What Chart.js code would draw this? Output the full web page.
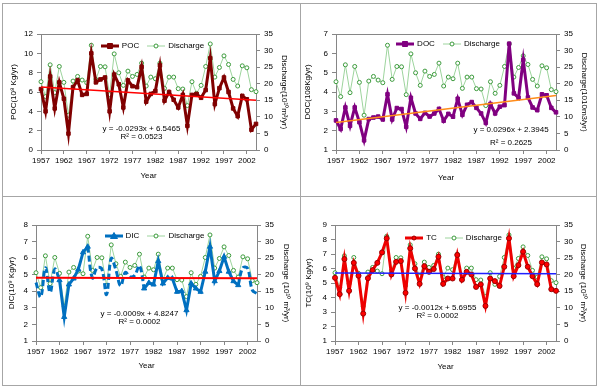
<!DOCTYPE html>
<html>
<head>
<meta charset="utf-8">
<title>Carbon flux and discharge, 1957-2004</title>
<script src="https://cdn.jsdelivr.net/npm/chart.js@4.4.1/dist/chart.umd.min.js"></script>
<style>
  body { margin: 0; background: #fff; }
  .cell { position: absolute; border: 1px solid #a6a6a6; box-sizing: border-box; }
  .cell canvas { position: absolute; left: 0; top: 0; }
</style>
</head>
<body>
<div class="cell" style="left:2px;top:3px;width:299px;height:194px"><canvas id="pocChart" width="297" height="192"></canvas></div>
<div class="cell" style="left:300px;top:3px;width:297px;height:194px"><canvas id="docChart" width="295" height="192"></canvas></div>
<div class="cell" style="left:2px;top:196px;width:299px;height:190px"><canvas id="dicChart" width="297" height="188"></canvas></div>
<div class="cell" style="left:300px;top:196px;width:297px;height:190px"><canvas id="tcChart" width="295" height="188"></canvas></div>
<script>
const years = [1957, 1958, 1959, 1960, 1961, 1962, 1963, 1964, 1965, 1966,
    1967, 1968, 1969, 1970, 1971, 1972, 1973, 1974, 1975, 1976,
    1977, 1978, 1979, 1980, 1981, 1982, 1983, 1984, 1985, 1986,
    1987, 1988, 1989, 1990, 1991, 1992, 1993, 1994, 1995, 1996,
    1997, 1998, 1999, 2000, 2001, 2002, 2003, 2004];

// discharge, 10^10 m3/yr (same series in every panel)
const discharge = [20.6, 16.1, 25.7, 17.3, 25.2, 20.4, 10.5, 20.8, 22.2, 21.1,
    20.3, 31.6, 21.3, 25.2, 25.1, 16.7, 29.0, 23.3, 19.5, 23.8,
    22.2, 22.8, 26.2, 19.3, 22.0, 21.5, 26.2, 18.6, 22.0, 22.0,
    18.5, 18.4, 13.4, 20.6, 17.1, 19.5, 25.2, 32.0, 22.0, 24.9,
    28.4, 25.8, 21.3, 19.3, 25.4, 24.8, 18.2, 17.6];

const poc = [6.3, 4.0, 7.6, 4.3, 7.0, 5.3, 1.7, 6.5, 7.2, 5.7,
    5.8, 10.0, 7.0, 7.3, 7.5, 4.0, 7.8, 6.8, 4.4, 7.2,
    6.6, 6.5, 8.6, 5.0, 5.8, 6.1, 8.75, 5.1, 6.0, 5.2,
    4.4, 5.7, 2.5, 5.7, 5.8, 5.4, 6.2, 9.5, 4.75, 6.4,
    7.5, 6.0, 4.3, 3.5, 5.6, 5.25, 2.1, 2.7];

const doc = [2.53, 2.09, 3.2, 2.25, 3.2, 2.44, 1.5, 2.6, 2.68, 2.73,
    2.58, 3.88, 2.58, 3.17, 3.12, 2.2, 3.7, 2.89, 2.61, 2.92,
    2.73, 2.89, 3.13, 2.51, 2.87, 2.72, 3.65, 2.82, 3.34, 3.48,
    3.18, 2.89, 2.4, 3.38, 2.89, 3.24, 3.32, 6.5, 3.93, 3.7,
    5.66, 3.72, 3.2, 3.06, 3.88, 3.83, 3.18, 2.95];

const dic = [4.53, 3.66, 5.42, 3.93, 5.34, 4.67, 2.45, 4.41, 4.77, 5.32,
    6.35, 6.69, 4.81, 5.42, 5.34, 3.80, 5.98, 5.28, 4.33, 5.14,
    4.87, 4.97, 5.54, 4.17, 4.51, 4.41, 5.82, 4.47, 4.81, 4.77,
    3.97, 4.01, 2.86, 4.47, 4.17, 3.97, 5.18, 6.69, 4.61, 5.22,
    6.08, 5.18, 4.61, 4.37, 5.42, 5.38, 4.07, 3.86];

// years drawn solid with markers; the rest of the DIC line is dashed
const dicMeasuredYears = [1962, 1963, 1964, 1965, 1966, 1967, 1968,
    1980, 1981, 1982, 1983, 1984, 1985, 1986, 1987, 1988, 1989, 1990,
    1991, 1992, 1993, 1994, 1995, 1996, 1997, 1998, 1999, 2000];

const tc = [5.36, 4.23, 6.65, 4.46, 6.39, 5.50, 2.89, 5.33, 5.89, 6.39,
    7.11, 8.08, 5.59, 6.46, 6.51, 4.32, 7.39, 6.0, 4.94, 6.16,
    5.77, 5.96, 6.81, 4.94, 5.31, 5.31, 6.93, 5.22, 5.77, 5.59,
    4.73, 4.90, 3.42, 5.31, 5.13, 4.80, 6.12, 8.08, 5.47, 6.23,
    7.16, 6.12, 5.47, 4.92, 6.42, 6.28, 4.57, 4.46];

// linear trend lines: value at 1957 and at 2004
const pocTrend = [6.52, 5.14];
const docTrend = [2.42, 3.82];
const dicTrend = [4.82, 4.78];
const tcTrend = [5.69, 5.64];

Chart.defaults.font.family = '"Liberation Sans", Arial, sans-serif';
Chart.defaults.font.size = 8;
Chart.defaults.color = '#000';

function makeIcon(lineColor, lineWidth, style, fill, border) {
    const c = document.createElement('canvas');
    c.width = 18;
    c.height = 8;
    const g = c.getContext('2d');
    g.strokeStyle = lineColor;
    g.lineWidth = lineWidth;
    g.beginPath();
    g.moveTo(0, 4);
    g.lineTo(18, 4);
    g.stroke();
    g.fillStyle = fill;
    g.strokeStyle = border;
    g.lineWidth = 1;
    g.beginPath();
    if (style === 'rect') {
        g.rect(6.5, 1.5, 5, 5);
    } else if (style === 'triangle') {
        g.moveTo(9, 0.5);
        g.lineTo(12.5, 6.5);
        g.lineTo(5.5, 6.5);
        g.closePath();
    } else {
        g.arc(9, 4, 2, 0, Math.PI * 2);
    }
    g.fill();
    g.stroke();
    return c;
}

function trendLine(ends) {
    return years.map(function (y, i) {
        if (i === 0) return ends[0];
        if (i === years.length - 1) return ends[1];
        return null;
    });
}

const panelDecor = {
    id: 'panelDecor',
    beforeDatasetsDraw(chart) {
        const a = chart.chartArea;
        const ctx = chart.ctx;
        ctx.save();
        ctx.strokeStyle = '#868686';
        ctx.lineWidth = 1;
        ctx.strokeRect(Math.round(a.left) + 0.5, Math.round(a.top) + 0.5,
            Math.round(a.right) - Math.round(a.left), Math.round(a.bottom) - Math.round(a.top));
        ctx.restore();
    },
    afterDatasetsDraw(chart, args, opts) {
        const a = chart.chartArea;
        const ctx = chart.ctx;
        const cx = (a.left + a.right) / 2;
        ctx.save();
        ctx.font = '8px "Liberation Sans", Arial, sans-serif';
        ctx.fillStyle = '#000';
        ctx.textBaseline = 'middle';
        ctx.textAlign = 'left';
        const items = chart.data.datasets.filter(function (d) { return d.legendIcon; });
        const widths = items.map(function (d) { return 21 + ctx.measureText(d.label).width; });
        const total = widths.reduce(function (s, w) { return s + w; }, 0) + 8 * (items.length - 1);
        let x = cx + opts.legendDx - total / 2;
        const y = a.top + opts.legendDy;
        items.forEach(function (d, i) {
            ctx.drawImage(d.legendIcon, Math.round(x), Math.round(y - 4));
            ctx.fillText(d.label, x + 21, y);
            x += widths[i] + 8;
        });
        ctx.textAlign = 'center';
        ctx.fillText(opts.equation, cx + opts.eqDx, a.top + opts.eqDy);
        ctx.fillText(opts.rSquared, cx + opts.r2Dx, a.top + opts.r2Dy);
        ctx.restore();
    }
};

function buildChart(id, p) {
    const ctx = document.getElementById(id).getContext('2d');
    const main = {
        label: p.label,
        data: p.data,
        borderColor: p.color,
        borderWidth: 3,
        pointStyle: p.pointStyle,
        pointRadius: p.pointRadius,
        pointBackgroundColor: p.pointFill,
        pointBorderColor: p.pointBorder,
        pointBorderWidth: 1,
        fill: false,
        clip: false,
        order: 1,
        legendIcon: makeIcon(p.color, 3, p.pointStyle, p.pointFill, p.pointBorder)
    };
    const flow = {
        label: 'Discharge',
        data: discharge,
        yAxisID: 'y2',
        borderColor: '#9dd49d',
        borderWidth: 1,
        pointStyle: 'circle',
        pointRadius: 2,
        pointBackgroundColor: '#ffffff',
        pointBorderColor: '#3c9a3c',
        pointBorderWidth: 1,
        fill: false,
        clip: false,
        order: 2,
        legendIcon: makeIcon('#9dd49d', 1, 'circle', '#ffffff', '#3c9a3c')
    };
    const trend = {
        label: '',
        data: trendLine(p.trend),
        borderColor: p.trendColor,
        borderWidth: p.trendWidth,
        pointRadius: 0,
        spanGaps: true,
        fill: false,
        order: 0
    };
    const datasets = [main, flow, trend].concat(p.extra || []);

    return new Chart(ctx, {
        type: 'line',
        data: {
            labels: years,
            datasets: datasets
        },
        options: {
            responsive: false,
            animation: false,
            layout: { padding: { top: p.top, left: 0, right: 0, bottom: 0 } },
            plugins: {
                legend: { display: false },
                tooltip: { enabled: false },
                panelDecor: p.decor
            },
            scales: {
                x: {
                    offset: false,
                    border: { display: false },
                    grid: { drawOnChartArea: false, tickLength: 4, color: '#868686' },
                    ticks: {
                        autoSkip: false,
                        maxRotation: 0,
                        padding: 2,
                        callback: function (v, i) { return i % 5 === 0 ? years[i] : null; }
                    },
                    title: { display: true, text: 'Year', font: { size: 8 }, padding: { top: 0, bottom: p.xTitlePad } },
                    afterFit: function (s) { s.height = p.xH; }
                },
                y: {
                    position: 'left',
                    min: p.leftMin,
                    max: p.leftMax,
                    border: { display: false },
                    grid: { drawOnChartArea: false, tickLength: 4, color: '#868686' },
                    ticks: { stepSize: p.leftStep, padding: 4 },
                    title: { display: true, text: p.leftTitle, font: { size: 8 }, padding: { top: p.leftTitlePad, bottom: 0 } },
                    afterFit: function (s) { s.width = p.leftW; }
                },
                y2: {
                    position: 'right',
                    min: 0,
                    max: 35,
                    border: { display: false },
                    grid: { drawOnChartArea: false, tickLength: 4, color: '#868686' },
                    ticks: { stepSize: 5, padding: 4 },
                    title: { display: true, text: p.rightTitle, font: { size: 8 }, padding: { top: p.rightTitlePad, bottom: 0 } },
                    afterFit: function (s) { s.width = p.rightW; }
                }
            }
        },
        plugins: [panelDecor]
    });
}

document.addEventListener('DOMContentLoaded', function () {
    buildChart('pocChart', {
        label: 'POC', data: poc, color: '#800000',
        pointStyle: 'rect', pointRadius: 2.5, pointFill: '#800000', pointBorder: '#800000',
        trend: pocTrend, trendColor: '#ff0000', trendWidth: 1.5,
        leftMin: 0, leftMax: 12, leftStep: 2,
        leftTitle: 'POC(10\u2078 Kg/yr)', rightTitle: 'Discharge(10\u00b9\u2070m\u00b3/yr)',
        leftW: 38, rightW: 44, top: 30, xH: 46,
        leftTitlePad: 6, rightTitlePad: 11, xTitlePad: 15,
        decor: { legendDx: 4, legendDy: 12, equation: 'y = -0.0293x + 6.5465', rSquared: 'R\u00b2 = 0.0523',
            eqDx: -7, eqDy: 95, r2Dx: -7, r2Dy: 103 }
    });

    buildChart('docChart', {
        label: 'DOC', data: doc, color: '#800080',
        pointStyle: 'rect', pointRadius: 2.5, pointFill: '#800080', pointBorder: '#800080',
        trend: docTrend, trendColor: '#ff8c1a', trendWidth: 1.5,
        leftMin: 1, leftMax: 7, leftStep: 1,
        leftTitle: 'DOC(108Kg/yr)', rightTitle: 'Discharge(1010m3/yr)',
        leftW: 35, rightW: 40, top: 30, xH: 46,
        leftTitlePad: 2, rightTitlePad: 7, xTitlePad: 13,
        decor: { legendDx: 2, legendDy: 10, equation: 'y = 0.0296x + 2.3945', rSquared: 'R\u00b2 = 0.2625',
            eqDx: 65, eqDy: 96, r2Dx: 65, r2Dy: 109 }
    });

    const measured = years.map(function (y) { return dicMeasuredYears.indexOf(y) >= 0; });
    const dicSolid = dic.map(function (v, i) { return measured[i] ? v : null; });
    const dicDashed = dic.map(function (v, i) {
        if (!measured[i]) return v;
        const edge = (i > 0 && !measured[i - 1]) || (i < dic.length - 1 && !measured[i + 1]);
        return edge ? v : null;
    });

    buildChart('dicChart', {
        label: 'DIC', data: dicSolid, color: '#0070c0',
        pointStyle: 'triangle', pointRadius: 3, pointFill: '#0070c0', pointBorder: '#0070c0',
        trend: dicTrend, trendColor: '#ff0000', trendWidth: 2,
        leftMin: 1, leftMax: 8, leftStep: 1,
        leftTitle: 'DIC(10\u2079 Kg/yr)', rightTitle: 'Discharge (10\u00b9\u2070 m\u00b3/yr)',
        leftW: 33, rightW: 43, top: 28, xH: 44,
        leftTitlePad: 4, rightTitlePad: 9, xTitlePad: 14,
        decor: { legendDx: 8, legendDy: 11, equation: 'y = -0.0009x + 4.8247', rSquared: 'R\u00b2 = 0.0002',
            eqDx: -7, eqDy: 89, r2Dx: -7, r2Dy: 97 },
        extra: [{
            label: '',
            data: dicDashed,
            borderColor: '#0070c0',
            borderWidth: 3,
            borderDash: [6, 3],
            tension: 0.4,
            pointRadius: 0,
            fill: false,
            clip: false,
            order: 1
        }]
    });

    buildChart('tcChart', {
        label: 'TC', data: tc, color: '#ee0000',
        pointStyle: 'circle', pointRadius: 2.5, pointFill: '#ff0000', pointBorder: '#990000',
        trend: tcTrend, trendColor: '#2020ff', trendWidth: 1.5,
        leftMin: 1, leftMax: 9, leftStep: 1,
        leftTitle: 'TC(10\u2079 Kg/yr)', rightTitle: 'Discharge (10\u00b9\u2070 m\u00b3/yr)',
        leftW: 34, rightW: 40, top: 28, xH: 44,
        leftTitlePad: 3, rightTitlePad: 8, xTitlePad: 13,
        decor: { legendDx: 8, legendDy: 13, equation: 'y = -0.0012x + 5.6955', rSquared: 'R\u00b2 = 0.0002',
            eqDx: -8, eqDy: 83, r2Dx: -8, r2Dy: 91 }
    });
});
</script>
</body>
</html>
